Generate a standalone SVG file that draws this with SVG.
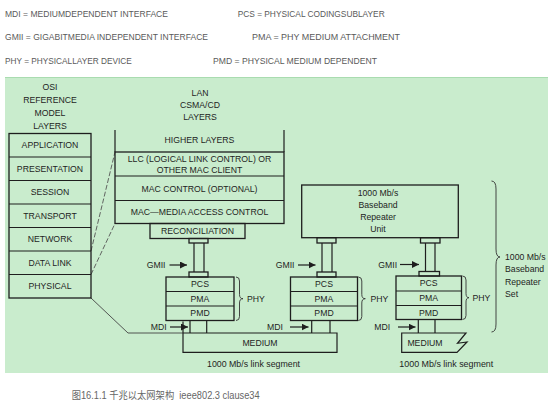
<svg xmlns="http://www.w3.org/2000/svg" width="554" height="403" viewBox="0 0 554 403">
<style>
.hd{font-family:"Liberation Sans",Arial,sans-serif;font-size:9.5px;fill:#5a5a5a}
.t{font-family:"Liberation Sans",Arial,sans-serif;font-size:8.7px;fill:#1e1e1e}
.c{text-anchor:middle}
.bx{fill:none;stroke:#1e1e1e;stroke-width:1.3}
.ln{fill:none;stroke:#1e1e1e;stroke-width:1.2}
.ds{fill:none;stroke:#555;stroke-width:0.9;stroke-dasharray:5 2}
.gl{fill:none;stroke:#444;stroke-width:0.9}
.br{fill:none;stroke:#333;stroke-width:0.9}
.ar{fill:none;stroke:#1e1e1e;stroke-width:1.2;marker-end:url(#ah)}
</style>
<defs>
<marker id="ah" viewBox="0 0 10 10" refX="10" refY="5" markerWidth="7" markerHeight="7" markerUnits="userSpaceOnUse" orient="auto">
<path d="M0,0 L10,5 L0,10 z" fill="#1e1e1e"/>
</marker>
</defs>
<rect width="554" height="403" fill="#ffffff"/>
<g id="legend">
<text class="hd" x="5" y="16.5" textLength="163" lengthAdjust="spacingAndGlyphs">MDI = MEDIUMDEPENDENT INTERFACE</text>
<text class="hd" x="237.7" y="16.5" textLength="147" lengthAdjust="spacingAndGlyphs">PCS = PHYSICAL CODINGSUBLAYER</text>
<text class="hd" x="5" y="40" textLength="203" lengthAdjust="spacingAndGlyphs">GMII = GIGABITMEDIA INDEPENDENT INTERFACE</text>
<text class="hd" x="252" y="40" textLength="148" lengthAdjust="spacingAndGlyphs">PMA = PHY MEDIUM ATTACHMENT</text>
<text class="hd" x="5" y="64" textLength="126.7" lengthAdjust="spacingAndGlyphs">PHY = PHYSICALLAYER DEVICE</text>
<text class="hd" x="213" y="64" textLength="164" lengthAdjust="spacingAndGlyphs">PMD = PHYSICAL MEDIUM DEPENDENT</text>
</g>
<rect id="panel" x="5" y="77" width="543" height="296" fill="#c9eccd"/>
<line x1="5" y1="77.5" x2="548" y2="77.5" stroke="#a9dcb0" stroke-width="1"/>

<g id="connectors">
<path class="ds" d="M91,251 L115,152"/>
<path class="ds" d="M91,274.5 L115,223.5"/>
<path class="gl" d="M91,298 L128,333 L183,333"/>
<path class="ar" d="M169.5,265 L187,265"/>
<path class="ar" d="M170,327 L188,327"/>
<path class="ar" d="M298,265 L315.5,265"/>
<path class="ar" d="M290,327 L308.5,327"/>
<path class="ar" d="M400,264.5 L419,264.5"/>
<path class="ar" d="M398,327 L415.5,327"/>
</g>

<g id="osi">
<text class="t c" x="50" y="90">OSI</text>
<text class="t c" x="50" y="103">REFERENCE</text>
<text class="t c" x="50" y="116">MODEL</text>
<text class="t c" x="50" y="129">LAYERS</text>
<rect class="bx" x="9" y="133.5" width="82" height="164.5"/>
<path class="ln" d="M9,157H91M9,180.5H91M9,204H91M9,227.5H91M9,251H91M9,274.5H91"/>
<text class="t c" x="50" y="148.3">APPLICATION</text>
<text class="t c" x="50" y="171.8">PRESENTATION</text>
<text class="t c" x="50" y="195.3">SESSION</text>
<text class="t c" x="50" y="218.8">TRANSPORT</text>
<text class="t c" x="50" y="242.3">NETWORK</text>
<text class="t c" x="50" y="265.8">DATA LINK</text>
<text class="t c" x="50" y="289.3">PHYSICAL</text>
</g>

<g id="lan">
<text class="t c" x="200" y="96">LAN</text>
<text class="t c" x="200" y="108">CSMA/CD</text>
<text class="t c" x="200" y="120">LAYERS</text>
<path class="ln" d="M115,130V152M284,130V152"/>
<text class="t c" x="199.5" y="143">HIGHER LAYERS</text>
<rect class="bx" x="115" y="152" width="169" height="71.5"/>
<path class="ln" d="M115,176H284M115,200.5H284"/>
<text class="t c" x="199.5" y="162">LLC (LOGICAL LINK CONTROL) OR</text>
<text class="t c" x="199.5" y="173">OTHER MAC CLIENT</text>
<text class="t c" x="199.5" y="191.5">MAC CONTROL (OPTIONAL)</text>
<text class="t c" x="199.5" y="215">MAC—MEDIA ACCESS CONTROL</text>
<rect class="bx" x="150" y="223.5" width="95" height="15"/>
<text class="t c" x="197.5" y="234">RECONCILIATION</text>
</g>

<g id="phy1">
<rect class="bx" x="189" y="238.5" width="19" height="4.5"/>
<path class="ln" d="M194,243V272M204,243V272"/>
<rect class="bx" x="189" y="272" width="19" height="5"/>
<rect class="bx" x="166" y="277" width="68" height="43.5"/>
<path class="ln" d="M166,291.5H234M166,306H234"/>
<text class="t c" x="200" y="287.3">PCS</text>
<text class="t c" x="200" y="301.8">PMA</text>
<text class="t c" x="200" y="316.3">PMD</text>
<path class="ln" d="M190,320.5V333M206.7,320.5V333"/>
<path class="br" d="M236,277Q239.5,277 239.5,281L239.5,294.5Q239.5,298.7 243,298.7Q239.5,298.7 239.5,303L239.5,316.5Q239.5,320.5 236,320.5"/>
<text class="t" x="247" y="302">PHY</text>
<text class="t" x="146.7" y="268">GMII</text>
<text class="t" x="150.7" y="330">MDI</text>
</g>

<g id="medium1">
<path class="ln" d="M183,333H337V352.3H183V321.5"/>
<text class="t c" x="260" y="346.3">MEDIUM</text>
<text class="t" x="207" y="367.3" textLength="93" lengthAdjust="spacingAndGlyphs">1000 Mb/s link segment</text>
</g>

<g id="repeater">
<rect class="bx" x="301.7" y="185" width="156.6" height="52.7"/>
<text class="t c" x="378" y="196.3">1000 Mb/s</text>
<text class="t c" x="378" y="208">Baseband</text>
<text class="t c" x="378" y="219.7">Repeater</text>
<text class="t c" x="378" y="232">Unit</text>
</g>

<g id="phy2">
<rect class="bx" x="317" y="237.7" width="19" height="5.3"/>
<path class="ln" d="M322,243V272M332,243V272"/>
<rect class="bx" x="317" y="272" width="19" height="5"/>
<rect class="bx" x="290.5" y="277" width="67" height="43.5"/>
<path class="ln" d="M290.5,291.5H357.5M290.5,306H357.5"/>
<text class="t c" x="324" y="287.3">PCS</text>
<text class="t c" x="324" y="301.8">PMA</text>
<text class="t c" x="324" y="316.3">PMD</text>
<path class="ln" d="M311.7,320.5V333M330,320.5V333"/>
<path class="br" d="M358.3,277Q361.8,277 361.8,281L361.8,294.5Q361.8,298.7 365.3,298.7Q361.8,298.7 361.8,303L361.8,316.5Q361.8,320.5 358.3,320.5"/>
<text class="t" x="370.5" y="301.5">PHY</text>
<text class="t" x="275.7" y="268">GMII</text>
<text class="t" x="267" y="330">MDI</text>
</g>

<g id="phy3">
<rect class="bx" x="420.5" y="237.7" width="19.5" height="5.3"/>
<path class="ln" d="M425.5,243V271.5M435,243V271.5"/>
<rect class="bx" x="419" y="271.5" width="20.5" height="4.5"/>
<rect class="bx" x="396" y="276" width="65.5" height="43.5"/>
<path class="ln" d="M396,291H461.5M396,305.5H461.5"/>
<text class="t c" x="428.7" y="286.3">PCS</text>
<text class="t c" x="428.7" y="301">PMA</text>
<text class="t c" x="428.7" y="315.5">PMD</text>
<path class="ln" d="M418.3,319.5V333M435,319.5V333"/>
<path class="br" d="M462.5,276Q466,276 466,280L466,293.5Q466,297.7 469,297.7Q466,297.7 466,302L466,315.5Q466,319.5 462.5,319.5"/>
<text class="t" x="472.5" y="300.7">PHY</text>
<text class="t" x="378.3" y="267.5">GMII</text>
<text class="t" x="374.3" y="330">MDI</text>
</g>

<g id="medium2">
<path class="ln" d="M401.7,333H466L457.5,343.3L467,342L457,352.3H401.7Z"/>
<text class="t c" x="425" y="346.3">MEDIUM</text>
<text class="t" x="399.3" y="367.3" textLength="94" lengthAdjust="spacingAndGlyphs">1000 Mb/s link segment</text>
</g>

<g id="repeater-set">
<path class="br" d="M491.5,181Q496,181 496,189L496,249Q496,257 500,257Q496,257 496,265L496,324Q496,332 491.5,332"/>
<text class="t" x="505" y="260.3">1000 Mb/s</text>
<text class="t" x="505" y="272">Baseband</text>
<text class="t" x="505" y="285.3">Repeater</text>
<text class="t" x="505" y="297">Set</text>
</g>

<text id="caption" x="71.7" y="399.3" font-family="Liberation Sans, Noto Sans CJK SC, sans-serif" font-size="10" fill="#666" textLength="188" lengthAdjust="spacingAndGlyphs">图16.1.1 千兆以太网架构&#160; ieee802.3 clause34</text>
</svg>
